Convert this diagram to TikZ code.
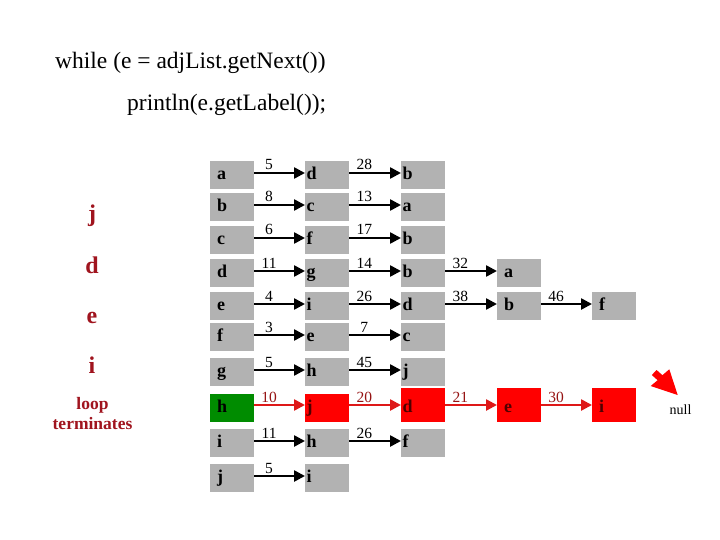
\documentclass[tikz,border=0pt]{standalone}
\usepackage{fontspec}
\setmainfont{Liberation Serif}
\usetikzlibrary{arrows.meta}
\definecolor{boxgray}{RGB}{178,178,178}
\definecolor{boxgreen}{RGB}{0,140,0}
\definecolor{boxred}{RGB}{255,0,0}
\definecolor{arrred}{RGB}{222,24,24}
\definecolor{labred}{RGB}{150,20,20}
\definecolor{sidered}{RGB}{160,20,30}
\definecolor{redtext}{RGB}{80,0,0}
\tikzset{
  cellbase/.style={anchor=north west, fill=boxgray, inner ysep=4.5pt,
    text height=13.5pt, text depth=5.5pt, align=left,
    font=\fontsize{18}{20}\selectfont\bfseries},
  cellA/.style={cellbase, inner xsep=7pt, text width=30pt},
  cellB/.style={cellbase, inner xsep=1.5pt, text width=41pt},
  tall/.style={text height=19.5pt},
  redcell/.style={fill=boxred, text=redtext},
  arr/.style={line width=2.5pt, -{Triangle[length=11pt,width=11pt]}},
  redarr/.style={arr, draw=arrred, color=arrred},
  lab/.style={pos=0.29, anchor=base, yshift=3pt, inner sep=0pt,
    font=\fontsize{15.5}{17}\selectfont},
  redlab/.style={lab, text=labred},
  side/.style={anchor=base, text=sidered, inner sep=0pt,
    font=\fontsize{24}{26}\selectfont\bfseries},
  sidesmall/.style={anchor=base, text=sidered, inner sep=0pt,
    font=\fontsize{17.5}{20}\selectfont\bfseries},
  title/.style={anchor=base west, inner sep=0pt,
    font=\fontsize{23.5}{26}\selectfont}
}
\begin{document}
\begin{tikzpicture}[x=1pt,y=-1pt]
\fill[white] (0,0) rectangle (720,540);
\useasboundingbox (0,0) rectangle (720,540);

% title code
\node[title] (t1) at (55,69) {while (e = adjList.getNext())};
\node[title] (t2) at (127,111) {println(e.getLabel());};

% side column
\node[side] (sj) at (92,222) {j};
\node[side] (sd) at (92,273) {d};
\node[side] (se) at (92,323) {e};
\node[side] (si) at (92,373) {i};
\node[sidesmall] (lt1) at (92.5,409) {loop};
\node[sidesmall] (lt2) at (92.5,429) {terminates};

% row y coordinates for arrows
\coordinate (ya) at (0,173);
\coordinate (yb) at (0,205);
\coordinate (yc) at (0,238);
\coordinate (yd) at (0,271);
\coordinate (ye) at (0,304);
\coordinate (yf) at (0,335);
\coordinate (yg) at (0,370);
\coordinate (yh) at (0,405);
\coordinate (yi) at (0,441);
\coordinate (yj) at (0,476);

% row a
\node[cellA] (a1) at (210,161) {a};
\node[cellB] (a2) at (305,161) {d};
\node[cellB] (a3) at (401,161) {b};
\draw[arr] (a1.east |- ya) -- node[lab] {5} (a2.west |- ya);
\draw[arr] (a2.east |- ya) -- node[lab] {28} (a3.west |- ya);

% row b
\node[cellA] (b1) at (210,193) {b};
\node[cellB] (b2) at (305,193) {c};
\node[cellB] (b3) at (401,193) {a};
\draw[arr] (b1.east |- yb) -- node[lab] {8} (b2.west |- yb);
\draw[arr] (b2.east |- yb) -- node[lab] {13} (b3.west |- yb);

% row c
\node[cellA] (c1) at (210,226) {c};
\node[cellB] (c2) at (305,226) {f};
\node[cellB] (c3) at (401,226) {b};
\draw[arr] (c1.east |- yc) -- node[lab] {6} (c2.west |- yc);
\draw[arr] (c2.east |- yc) -- node[lab] {17} (c3.west |- yc);

% row d
\node[cellA] (d1) at (210,259) {d};
\node[cellB] (d2) at (305,259) {g};
\node[cellB] (d3) at (401,259) {b};
\node[cellA] (d4) at (497,259) {a};
\draw[arr] (d1.east |- yd) -- node[lab] {11} (d2.west |- yd);
\draw[arr] (d2.east |- yd) -- node[lab] {14} (d3.west |- yd);
\draw[arr] (d3.east |- yd) -- node[lab] {32} (d4.west |- yd);

% row e
\node[cellA] (e1) at (210,292) {e};
\node[cellB] (e2) at (305,292) {i};
\node[cellB] (e3) at (401,292) {d};
\node[cellA] (e4) at (497,292) {b};
\node[cellA] (e5) at (592,292) {f};
\draw[arr] (e1.east |- ye) -- node[lab] {4} (e2.west |- ye);
\draw[arr] (e2.east |- ye) -- node[lab] {26} (e3.west |- ye);
\draw[arr] (e3.east |- ye) -- node[lab] {38} (e4.west |- ye);
\draw[arr] (e4.east |- ye) -- node[lab] {46} (e5.west |- ye);

% row f
\node[cellA] (f1) at (210,323) {f};
\node[cellB] (f2) at (305,323) {e};
\node[cellB] (f3) at (401,323) {c};
\draw[arr] (f1.east |- yf) -- node[lab] {3} (f2.west |- yf);
\draw[arr] (f2.east |- yf) -- node[lab] {7} (f3.west |- yf);

% row g
\node[cellA] (g1) at (210,358) {g};
\node[cellB] (g2) at (305,358) {h};
\node[cellB] (g3) at (401,358) {j};
\draw[arr] (g1.east |- yg) -- node[lab] {5} (g2.west |- yg);
\draw[arr] (g2.east |- yg) -- node[lab] {45} (g3.west |- yg);

% row h (path of the loop)
\node[cellA, fill=boxgreen] (h1) at (210,394) {h};
\node[cellB, redcell] (h2) at (305,394) {j};
\node[cellB, redcell, tall] (h3) at (401,388) {d};
\node[cellA, redcell, tall] (h4) at (497,388) {e};
\node[cellA, redcell, tall] (h5) at (592,388) {i};
\draw[redarr] (h1.east |- yh) -- node[redlab] {10} (h2.west |- yh);
\draw[redarr] (h2.east |- yh) -- node[redlab] {20} (h3.west |- yh);
\draw[redarr] (h3.east |- yh) -- node[redlab] {21} (h4.west |- yh);
\draw[redarr] (h4.east |- yh) -- node[redlab] {30} (h5.west |- yh);

% row i
\node[cellA] (i1) at (210,429) {i};
\node[cellB] (i2) at (305,429) {h};
\node[cellB] (i3) at (401,429) {f};
\draw[arr] (i1.east |- yi) -- node[lab] {11} (i2.west |- yi);
\draw[arr] (i2.east |- yi) -- node[lab] {26} (i3.west |- yi);

% row j
\node[cellA] (j1) at (210,464) {j};
\node[cellB] (j2) at (305,464) {i};
\draw[arr] (j1.east |- yj) -- node[lab] {5} (j2.west |- yj);

% null pointer
\node[inner sep=0pt, font=\fontsize{14}{16}\selectfont] (null) at (680.5,410) {null};
\fill[boxred] (656.6,370) -- (662.4,375.2) -- (669.3,369.3) -- (677.7,395)
  -- (650.7,386) -- (657.6,380.2) -- (651.8,375) -- cycle;
\end{tikzpicture}
\end{document}
